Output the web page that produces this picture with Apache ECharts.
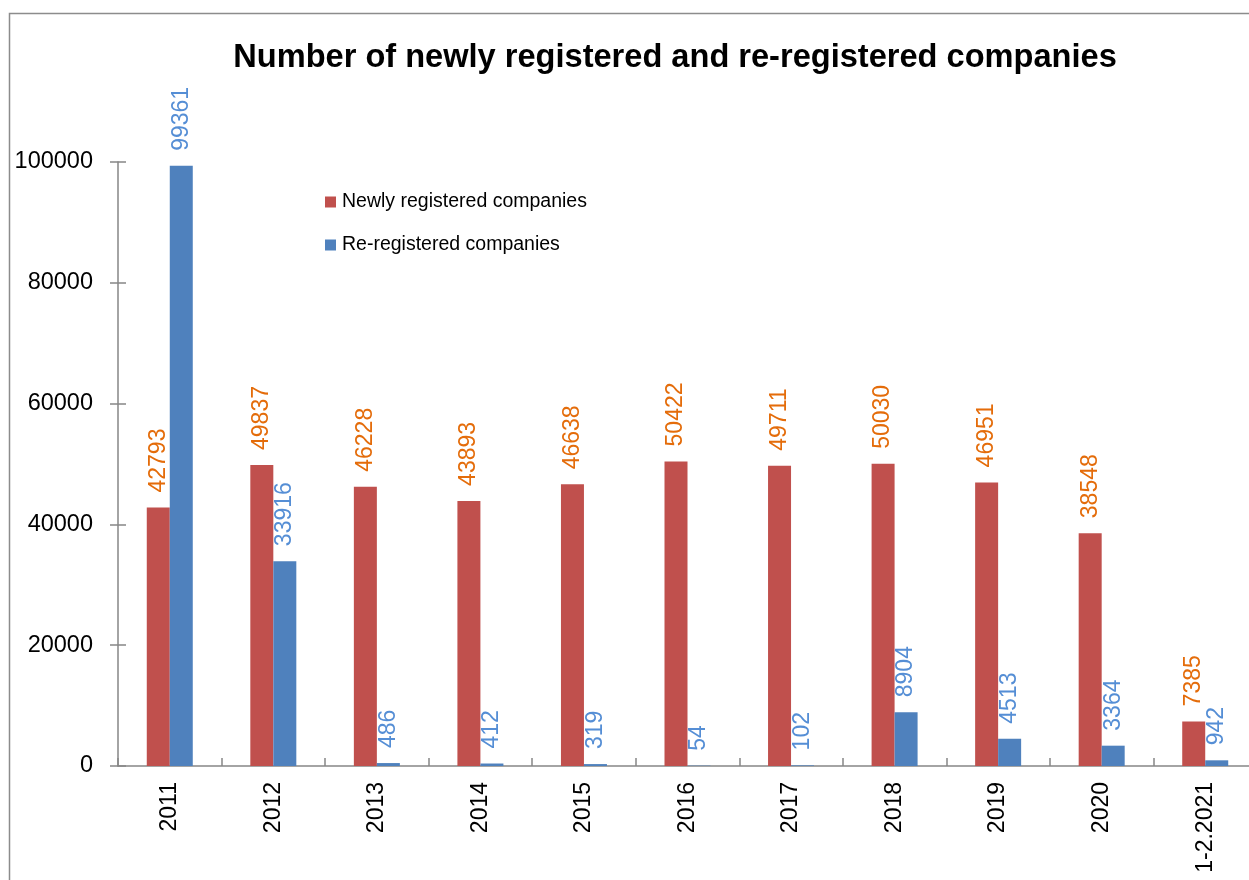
<!DOCTYPE html>
<html>
<head>
<meta charset="utf-8">
<script src="https://cdn.jsdelivr.net/npm/echarts@6/dist/echarts.min.js"></script>
<style>
  html, body { margin: 0; padding: 0; background: #fff; }
  #chart { width: 1249px; height: 880px; }
</style>
</head>
<body>
<div id="chart"></div>
<script>
const years = ['2011', '2012', '2013', '2014', '2015', '2016', '2017', '2018', '2019', '2020', '1-2.2021']
const newlyRegistered = [42793, 49837, 46228, 43893, 46638, 50422, 49711, 50030, 46951, 38548, 7385]
const reRegistered = [99361, 33916, 486, 412, 319, 54, 102, 8904, 4513, 3364, 942]
const seriesNames = ['Newly registered companies', 'Re-registered companies']

const font = '"Liberation Sans", Arial, sans-serif'
const axisColor = '#868686'

const myChart = echarts.init(document.getElementById('chart'))

// подпись над столбцом, повернутая вертикально
function barLabel(color) {
  return {
    show: true,
    position: 'top',
    distance: 15,
    rotate: 90,
    align: 'left',
    verticalAlign: 'middle',
    color: color,
    fontSize: 23,
    fontFamily: font
  }
}

const gridBox = { left: 118, right: -8, top: 162, bottom: 114, outerBoundsMode: 'none' }
const tickStyle = { color: axisColor, width: 1.5 }
// линия второй оси невидима, нужны только засечки внутрь
const ghostLine = { show: true, onZero: false, lineStyle: { color: 'rgba(0,0,0,0)', width: 1 } }

const chartOption = {
  backgroundColor: '#fff',
  animation: false,
  title: {
    text: 'Number of newly registered and re-registered companies',
    left: 670,
    top: 37,
    textAlign: 'center',
    textStyle: {
      fontFamily: font,
      fontWeight: 'bold',
      fontSize: 32.6,
      color: '#000'
    }
  },
  legend: {
    data: seriesNames,
    orient: 'vertical',
    left: 325,
    top: 192,
    padding: 0,
    itemWidth: 11,
    itemHeight: 11,
    itemGap: 23,
    icon: 'rect',
    textStyle: {
      fontFamily: font,
      fontSize: 19.5,
      color: '#000',
      padding: [0, 0, 0, 1]
    }
  },
  graphic: [
    {
      type: 'rect',
      shape: { x: 9.5, y: 13.5, width: 1300, height: 900 },
      style: { fill: 'none', stroke: '#8c8c8c', lineWidth: 1.5 },
      silent: true
    }
  ],
  // вторая сетка с теми же границами - для засечек "крестом"
  grid: [Object.assign({}, gridBox), Object.assign({}, gridBox)],
  xAxis: [
    {
      type: 'category',
      gridIndex: 0,
      data: years,
      axisLine: { lineStyle: tickStyle },
      axisTick: { length: 8, lineStyle: tickStyle },
      axisLabel: {
        rotate: 90,
        margin: 16,
        fontSize: 23,
        fontFamily: font,
        color: '#000',
        interval: 0
      }
    },
    {
      type: 'category',
      gridIndex: 1,
      position: 'bottom',
      data: years,
      axisLine: ghostLine,
      axisTick: { show: true, inside: true, length: 8, lineStyle: tickStyle },
      axisLabel: { show: false }
    }
  ],
  yAxis: [
    {
      type: 'value',
      gridIndex: 0,
      min: 0,
      max: 100000,
      interval: 20000,
      axisLine: { show: true, lineStyle: tickStyle },
      axisTick: { show: true, length: 8, lineStyle: tickStyle },
      axisLabel: {
        margin: 25,
        fontSize: 23.5,
        fontFamily: font,
        color: '#000',
        formatter: (v) => String(v)
      },
      splitLine: { show: false }
    },
    {
      type: 'value',
      gridIndex: 1,
      position: 'left',
      min: 0,
      max: 100000,
      interval: 20000,
      axisLine: ghostLine,
      axisTick: { show: true, inside: true, length: 8, lineStyle: tickStyle },
      axisLabel: { show: false },
      splitLine: { show: false }
    }
  ],
  series: [
    {
      name: seriesNames[0],
      type: 'bar',
      data: newlyRegistered,
      barWidth: 23,
      barGap: '0%',
      itemStyle: { color: '#C0504D' },
      label: barLabel('#E46C0A')
    },
    {
      name: seriesNames[1],
      type: 'bar',
      data: reRegistered,
      barWidth: 23,
      barGap: '0%',
      itemStyle: { color: '#4F81BD' },
      label: barLabel('#558ED5')
    },
    {
      // пустая серия, чтобы вторая сетка с осями отрисовалась
      name: 'ticks',
      type: 'line',
      xAxisIndex: 1,
      yAxisIndex: 1,
      data: [],
      silent: true
    }
  ]
}

myChart.setOption(chartOption)
</script>
</body>
</html>
